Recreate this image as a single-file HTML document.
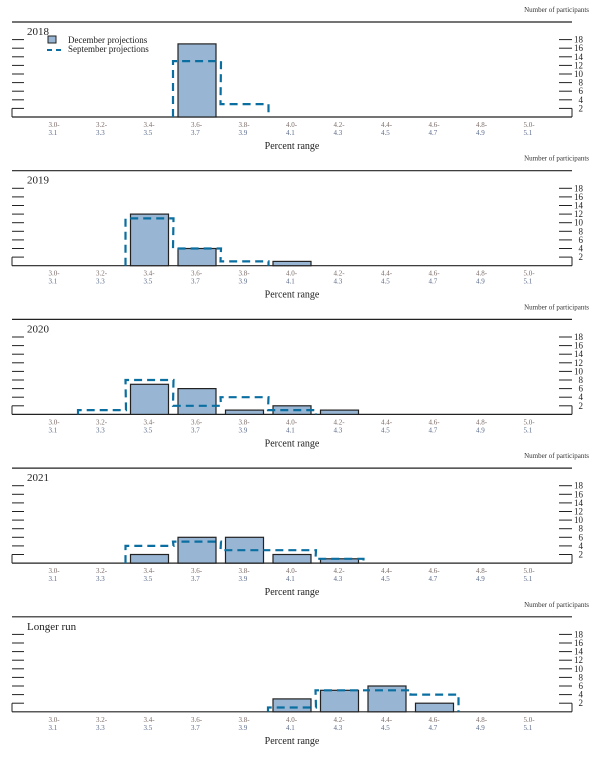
<!DOCTYPE html>
<html><head><meta charset="utf-8"><style>
body{margin:0;background:#fff;}
svg{display:block;font-family:"Liberation Serif",serif;}
</style></head><body>
<svg id="chart" width="605" height="759" xmlns="http://www.w3.org/2000/svg"></svg>
<script>
const categories=["3.0-|3.1","3.2-|3.3","3.4-|3.5","3.6-|3.7","3.8-|3.9","4.0-|4.1","4.2-|4.3","4.4-|4.5","4.6-|4.7","4.8-|4.9","5.0-|5.1"];
const panelTitles=["2018","2019","2020","2021","Longer run"];
const decSeries=[
 [0,0,0,17,0,0,0,0,0,0,0],
 [0,0,12,4,0,1,0,0,0,0,0],
 [0,0,7,6,1,2,1,0,0,0,0],
 [0,0,2,6,6,2,1,0,0,0,0],
 [0,0,0,0,0,3,5,6,2,0,0]];
const sepSeries=[
 [0,0,0,13,3,0,0,0,0,0,0],
 [0,0,11,4,1,0,0,0,0,0,0],
 [0,1,8,2,4,1,0,0,0,0,0],
 [0,0,4,5,3,3,1,0,0,0,0],
 [0,0,0,0,0,1,5,5,4,0,0]];
const yTicks=[2,4,6,8,10,12,14,16,18];

const NS="http://www.w3.org/2000/svg";
const svg=document.getElementById('chart');
function mk(t,a,p){const e=document.createElementNS(NS,t);for(const k in a)e.setAttribute(k,a[k]);(p||svg).appendChild(e);return e;}
const unit=4.3, L=12, R=572;
function xc(i){return 54.5+47.5*i;}
panelTitles.forEach((title,p)=>{
  const top=22+p*148.7, base=top+95;
  const y=v=>base-v*unit;
  const g=mk('g',{});
  
  
  let t=mk('text',{x:589,y:top-10,'text-anchor':'end','font-size':'7',fill:'#333'},g);t.textContent="Number of participants";
  
  mk('line',{x1:L,x2:R,y1:top,y2:top,stroke:'#222','stroke-width':1.2},g);
  t=mk('text',{x:27,y:top+13,'font-size':'11',fill:'#222'},g);t.textContent=title;
  
  // axes
  mk('line',{x1:L,x2:R,y1:base,y2:base,stroke:'#222','stroke-width':1.2},g);
  mk('line',{x1:L,x2:L,y1:base,y2:y(2),stroke:'#222','stroke-width':1},g);
  mk('line',{x1:R,x2:R,y1:base,y2:y(2),stroke:'#222','stroke-width':1},g);
  yTicks.forEach(v=>{
    mk('line',{x1:L,x2:24,y1:y(v),y2:y(v),stroke:'#222','stroke-width':1},g);
    mk('line',{x1:559,x2:R,y1:y(v),y2:y(v),stroke:'#222','stroke-width':1},g);
    const tt=mk('text',{x:583,y:y(v)+3,'text-anchor':'end','font-size':'9',fill:'#222'},g);tt.textContent=v;
    
  });
  categories.forEach((c,i)=>{
    const [a,b]=c.split('|');
    let t1=mk('text',{x:xc(i)-6,y:base+10,'font-size':'7',fill:'#7a6a66'},g);t1.textContent=a;
    
    let t2=mk('text',{x:xc(i)-6,y:base+18,'font-size':'7',fill:'#5a6a8a'},g);t2.textContent=b;
    
  });
  t=mk('text',{x:292,y:base+32,'text-anchor':'middle','font-size':'10',fill:'#222'},g);t.textContent="Percent range";
  
  // bars
  decSeries[p].forEach((v,i)=>{
    if(v<=0)return;
    const r=mk('rect',{x:xc(i)-19,y:y(v),width:38,height:v*unit,fill:'#98b6d4',stroke:'#222','stroke-width':1.2},g);
    
  });
  // september step outline
  const s=sepSeries[p];
  let first=s.findIndex(v=>v>0), last=s.length-1-[...s].reverse().findIndex(v=>v>0);
  if(first>=0){
    let d=`M${xc(first)-24},${base}`;
    for(let i=first;i<=last;i++){d+=` L${xc(i)-24},${y(s[i])} L${xc(i)+24},${y(s[i])}`;}
    d+=` L${xc(last)+24},${base}`;
    const pth=mk('path',{d:d,fill:'none',stroke:'#0a6fa0','stroke-width':2.2,'stroke-dasharray':'8,5'},g);
    
  }
  if(p===0){
    const lg=mk('g',{},g);
    
    mk('rect',{x:48,y:36,width:8,height:7,fill:'#98b6d4',stroke:'#222','stroke-width':1},lg);
    let a=mk('text',{x:68,y:43,'font-size':'9',fill:'#222'},lg);a.textContent="December projections";
    
    mk('line',{x1:47,x2:62,y1:50,y2:50,stroke:'#0a6fa0','stroke-width':2,'stroke-dasharray':'5,4'},lg);
    a=mk('text',{x:68,y:52,'font-size':'9',fill:'#222'},lg);a.textContent="September projections";
    
  }
});
</script>
</body></html>
